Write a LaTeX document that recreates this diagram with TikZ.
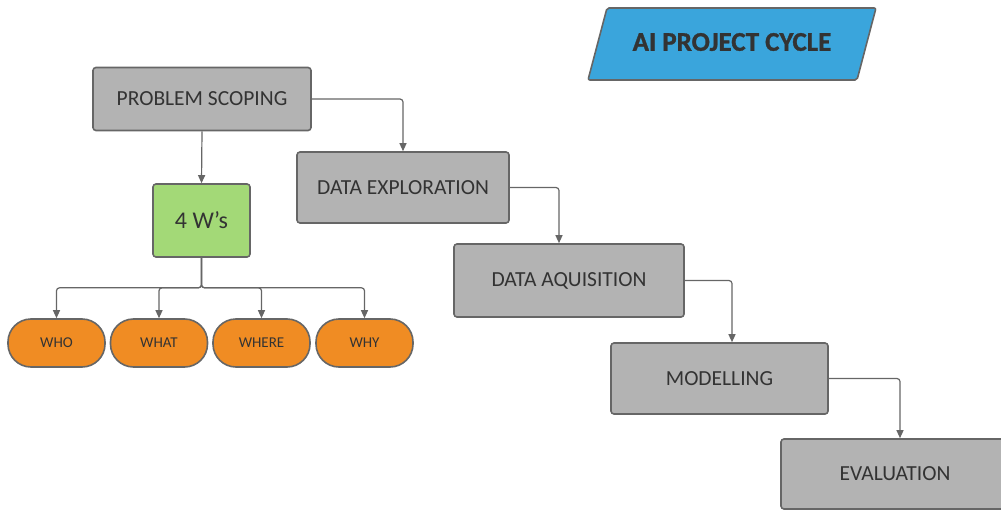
\documentclass[tikz,border=0pt]{standalone}
\usepackage{fontspec}
\setmainfont{Carlito}
\newfontfamily\titlefont[FakeBold=1.2]{Carlito Bold}
\definecolor{pcgray}{RGB}{179,179,179}
\definecolor{pcedge}{RGB}{102,102,102}
\definecolor{pctext}{RGB}{51,51,51}
\definecolor{pcblue}{RGB}{58,165,220}
\definecolor{pcgreen}{RGB}{163,217,119}
\definecolor{pcorange}{RGB}{240,140,35}
\usetikzlibrary{arrows.meta,positioning,calc}

\begin{document}
\begin{tikzpicture}[x=1pt, y=-1pt,
  stagebox/.style={draw=pcedge, line width=1.6pt, fill=pcgray, rounded corners=3pt,
    text=pctext, inner sep=0pt, font=\fontsize{21.5}{23}\selectfont},
  wbox/.style={draw=pcedge, line width=1.6pt, fill=pcorange, rounded corners=23pt,
    minimum width=97pt, minimum height=48pt, inner sep=0pt, text=pctext,
    font=\fontsize{15}{17}\selectfont},
  link/.style={draw=pcedge, line width=1.2pt, rounded corners=3pt,
    -{Triangle[length=8pt, width=7pt]}}]
\useasboundingbox (0,0) rectangle (1001,511);

% title
\draw[draw=pcedge, line width=1.6pt, fill=pcblue, rounded corners=2pt]
  (588,80) -- (607,8) -- (876,8) -- (857,80) -- cycle;
\node[text=pctext, font=\titlefont\fontsize{27}{29}\selectfont] (title) at (732,42) {AI PROJECT CYCLE};

\node[stagebox, minimum width=218pt, minimum height=63pt] (scoping) at (202,99) {PROBLEM SCOPING};
\node[stagebox, minimum width=212pt, minimum height=71pt] (explore) at (403,187.5) {DATA EXPLORATION};
\node[stagebox, minimum width=230pt, minimum height=73pt] (aquisition) at (569,280.5) {DATA AQUISITION};
\node[stagebox, minimum width=217pt, minimum height=71pt] (modelling) at (719.5,378.5) {MODELLING};
\node[stagebox, minimum width=228pt, minimum height=70pt] (evaluation) at (895,474) {EVALUATION};

\node[stagebox, fill=pcgreen, minimum width=97pt, minimum height=73pt,
  font=\fontsize{24}{26}\selectfont] (ws) at (201.5,220.5) {4 W's};

\node[wbox] (who) at (56.5,343) {WHO};
\node[wbox] (what) at (159,343) {WHAT};
\node[wbox] (where) at (261.5,343) {WHERE};
\node[wbox] (why) at (364.5,343) {WHY};

\draw[link] (scoping.east) -| (explore.north);
\draw[link] (explore.east) -| ([xshift=-10pt]aquisition.north);
\draw[link] (aquisition.east) -| ([xshift=12.5pt]modelling.north);
\draw[link] (modelling.east) -| ([xshift=5pt]evaluation.north);

\draw[link] (scoping.south) -- (ws.north);
\foreach \w in {who,what,where,why}
  \draw[link] (ws.south) -- ++(0,30) -| (\w.north);
\end{tikzpicture}
\end{document}
